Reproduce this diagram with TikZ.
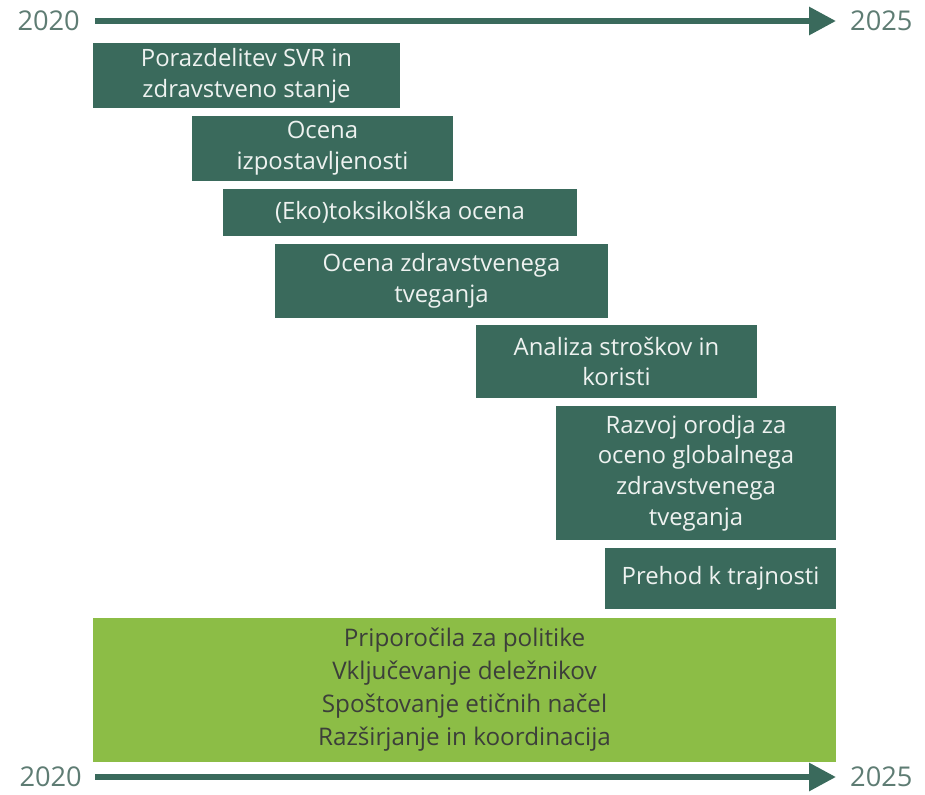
\documentclass[tikz,border=0pt]{standalone}
\usepackage{fontspec}
\setmainfont{Open Sans}
\usetikzlibrary{arrows.meta}
\definecolor{PhaseDark}{HTML}{3A6A5C}
\definecolor{PhaseLight}{HTML}{8CBD46}
\definecolor{PhaseText}{HTML}{EEF2F0}
\definecolor{BandText}{HTML}{3C3F3A}
\definecolor{YearInk}{HTML}{5E7C73}
\tikzset{
  every node/.style={font=\fontsize{13.6}{17.5}\selectfont, align=center},
  phase/.style={fill=PhaseDark, text=PhaseText, inner sep=0pt},
  band/.style={fill=PhaseLight, text=BandText, inner sep=0pt, font=\fontsize{13.8}{18.8}\selectfont},
  year/.style={text=YearInk, font=\fontsize{15.5}{18}\selectfont},
  timeline/.style={-{Triangle[length=27*0.02cm,width=27*0.02cm]}, draw=PhaseDark, line width=6*0.02cm},
}
\begin{document}
\begin{tikzpicture}[x=0.02cm,y=-0.02cm]
  \useasboundingbox (0,0) rectangle (925,794);

  % Top time axis
  \coordinate (topstart) at (95,21);
  \coordinate (topend) at (836,21);
  \draw[timeline] (topstart) -- (topend);
  \node[year, anchor=east] (topfrom) at (86,21) {2020};
  \node[year, anchor=west] (topto) at (844,21) {2025};

  % Work phases, staggered in time
  \node[phase, minimum width=307*0.02cm, minimum height=65*0.02cm] (svr) at (246.5,75.5)
        {Porazdelitev SVR in\\zdravstveno stanje};
  \node[phase, minimum width=261*0.02cm, minimum height=65*0.02cm] (expo) at (322.5,148.5)
        {Ocena\\izpostavljenosti};
  \node[phase, minimum width=354*0.02cm, minimum height=47*0.02cm] (tox) at (400,212.5)
        {(Eko)toksikolška ocena};
  \node[phase, minimum width=333*0.02cm, minimum height=74*0.02cm] (risk) at (441.5,281)
        {Ocena zdravstvenega\\tveganja};
  \node[phase, minimum width=281*0.02cm, minimum height=73*0.02cm] (cost) at (616.5,361.5)
        {Analiza stroškov in\\koristi};
  \node[phase, minimum width=280*0.02cm, minimum height=134*0.02cm] (tool) at (696,473)
        {Razvoj orodja za\\oceno globalnega\\zdravstvenega\\tveganja};
  \node[phase, minimum width=231*0.02cm, minimum height=61*0.02cm] (trans) at (720.5,578.5)
        {Prehod k trajnosti};

  % Cross-cutting activities over the whole period
  \node[band, minimum width=743*0.02cm, minimum height=144*0.02cm] (cross) at (464.5,690)
        {Priporočila za politike\\Vključevanje deležnikov\\Spoštovanje etičnih načel\\Razširjanje in koordinacija};

  % Bottom time axis
  \coordinate (botstart) at (95,777);
  \coordinate (botend) at (836,777);
  \draw[timeline] (botstart) -- (botend);
  \node[year, anchor=east] (botfrom) at (88,777) {2020};
  \node[year, anchor=west] (botto) at (844,777) {2025};
\end{tikzpicture}
\end{document}
